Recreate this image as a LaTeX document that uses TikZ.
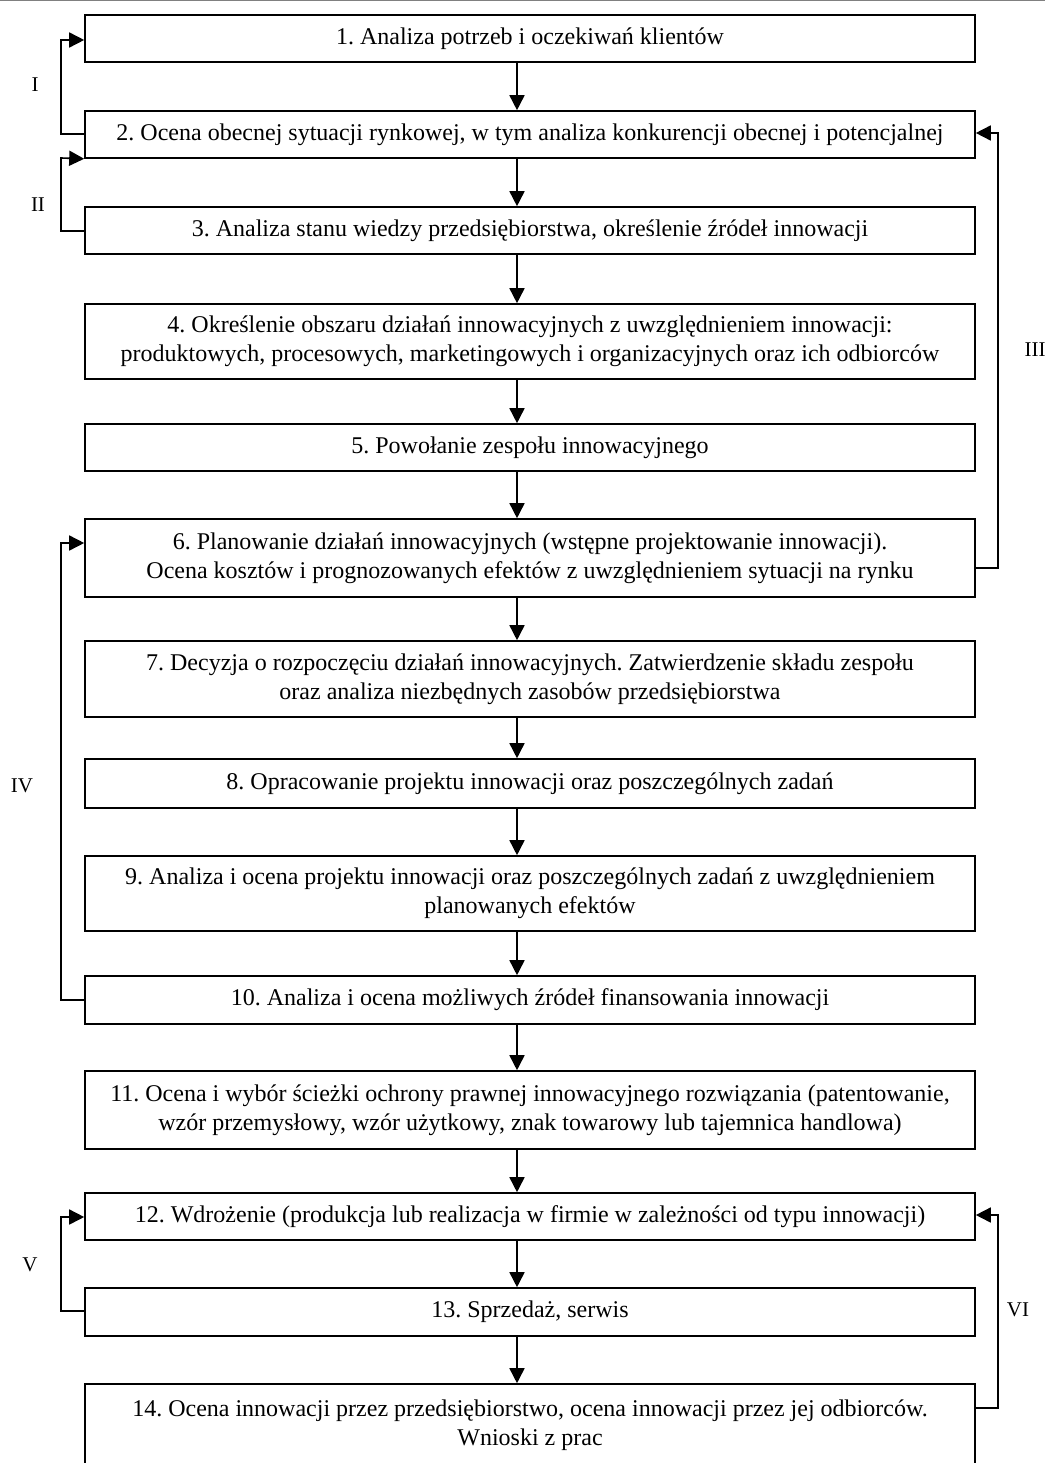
\documentclass[tikz,border=0pt]{standalone}
\usepackage{fontspec}
\setmainfont{Liberation Serif}
\usetikzlibrary{arrows.meta}
\frenchspacing
\tikzset{
  box/.style={draw, line width=1.6pt, minimum width=890pt, minimum height=47pt,
    align=center, inner sep=0pt, font=\fontsize{24}{29}\selectfont},
  tallbox/.style={box, minimum height=77pt},
  lbl/.style={font=\fontsize{21}{24}\selectfont}
}
\begin{document}
\begin{tikzpicture}[x=1pt,y=-1pt]
      \useasboundingbox (0,0) rectangle (1045,1463);
      \draw[gray, line width=1pt] (0,1) -- (1045,1);
      \draw
        (530,38.5) node[box] (1){1. Analiza potrzeb i oczekiwań klientów}
        (530,134.5) node[box] (2){2. Ocena obecnej sytuacji rynkowej, w tym analiza konkurencji obecnej i potencjalnej}
        (530,230.5) node[box] (3){3. Analiza stanu wiedzy przedsiębiorstwa, określenie źródeł innowacji}
        (530,341.5) node[tallbox, minimum height=75pt] (4){4. Określenie obszaru działań innowacyjnych z uwzględnieniem innowacji:\\produktowych, procesowych, marketingowych i organizacyjnych oraz ich odbiorców}
        (530,447.5) node[box] (5){5. Powołanie zespołu innowacyjnego}
        (530,558) node[tallbox, minimum height=78pt] (6){6. Planowanie działań innowacyjnych (wstępne projektowanie innowacji).\\Ocena kosztów i prognozowanych efektów z uwzględnieniem sytuacji na rynku}
        (530,679) node[tallbox, minimum height=76pt] (7){7. Decyzja o rozpoczęciu działań innowacyjnych. Zatwierdzenie składu zespołu\\oraz analiza niezbędnych zasobów przedsiębiorstwa}
        (530,783.5) node[box, minimum height=49pt] (8){8. Opracowanie projektu innowacji oraz poszczególnych zadań}
        (530,893.5) node[tallbox, minimum height=75pt] (9){9. Analiza i ocena projektu innowacji oraz poszczególnych zadań z uwzględnieniem\\planowanych efektów}
        (530,1000) node[box, minimum height=48pt] (10){10. Analiza i ocena możliwych źródeł finansowania innowacji}
        (530,1110) node[tallbox, minimum height=78pt] (11){11. Ocena i wybór ścieżki ochrony prawnej innowacyjnego rozwiązania (patentowanie,\\wzór przemysłowy, wzór użytkowy, znak towarowy lub tajemnica handlowa)}
        (530,1216.5) node[box] (12){12. Wdrożenie (produkcja lub realizacja w firmie w zależności od typu innowacji)}
        (530,1312) node[box, minimum height=48pt] (13){13. Sprzedaż, serwis}
        (530,1425) node[tallbox, minimum height=82pt] (14){14. Ocena innowacji przez przedsiębiorstwo, ocena innowacji przez jej odbiorców.\\Wnioski z prac};
      \draw
        (35,85) node[lbl] (I){I}
        (38,205) node[lbl] (II){II}
        (1035,350) node[lbl] (III){III}
        (22,786) node[lbl] (IV){IV}
        (30,1265) node[lbl] (V){V}
        (1018,1310) node[lbl] (VI){VI};
      \begin{scope}[line width=1.6pt, -{Triangle[length=15pt,width=15pt]}]
        \foreach \a/\b in {1/2,2/3,3/4,4/5,5/6,6/7,7/8,8/9,9/10,10/11,11/12,12/13,13/14}
          \draw (517,0 |- \a.south) -- (517,0 |- \b.north);
        % feedback loops
        \draw ([yshift=0.5pt]2.west) -| (61,40) -- (1.west |- 0,40);
        \draw ([yshift=-0.5pt]3.west) -| (61,158) -- (2.south west);
        \draw (6.east |- 0,568) -| (998,133) -- (2.east |- 0,133);
        \draw (10.west) -| (61,543) -- (6.west |- 0,543);
        \draw ([yshift=1pt]13.west) -| (61,1217) -- (12.west |- 0,1217);
        \draw (14.east |- 0,1408) -| (998,1215) -- (12.east |- 0,1215);
      \end{scope}
    \end{tikzpicture}
\end{document}
